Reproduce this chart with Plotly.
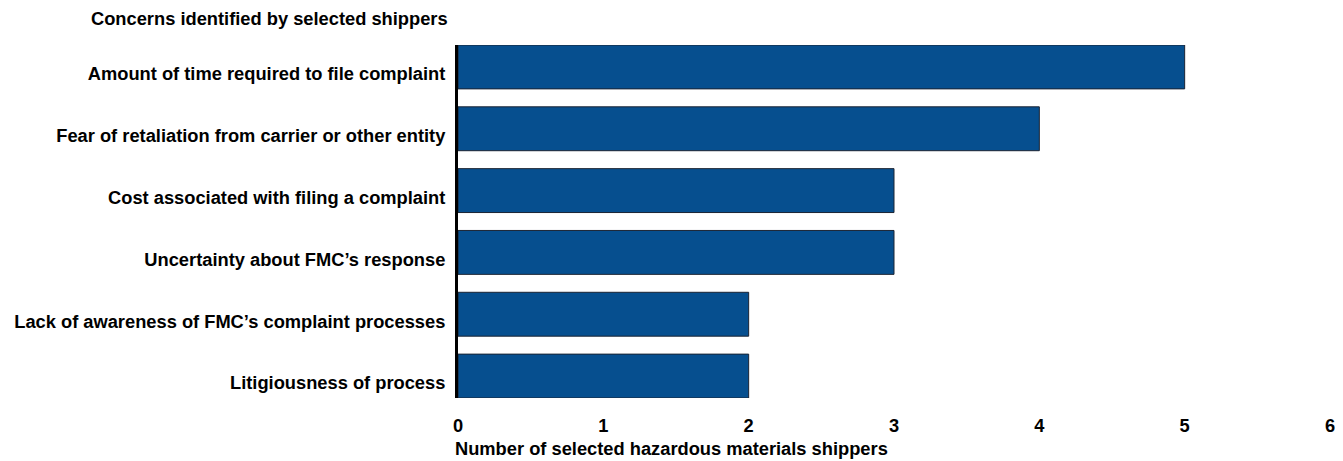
import plotly.graph_objects as go

categories = [
    "Amount of time required to file complaint",
    "Fear of retaliation from carrier or other entity",
    "Cost associated with filing a complaint",
    "Uncertainty about FMC\u2019s response",
    "Lack of awareness of FMC\u2019s complaint processes",
    "Litigiousness of process",
]
values = [5, 4, 3, 3, 2, 2]
x_ticks = [0, 1, 2, 3, 4, 5, 6]

# page body has an 8px margin, so the figure is sized/placed to compensate
off = 8
W, H = 1343 - off, 461 - off
ml, mr, mt, mb = 458 - off, 13, 45 - off, 63
gap = 0.29
fs = 18.3

fig = go.Figure(go.Bar(
    y=categories, x=values, orientation="h",
    marker=dict(color="#064f8f", line=dict(color="#1b2433", width=1)),
    hoverinfo="skip",
))

font = dict(family="Liberation Sans, Arial, sans-serif", size=fs, color="#000000")

fig.update_layout(
    width=W, height=H,
    margin=dict(l=ml, r=mr, t=mt, b=mb, autoexpand=False),
    paper_bgcolor="white", plot_bgcolor="white",
    bargap=gap, showlegend=False,
    font=font,
    xaxis=dict(
        range=[0, 6], tickvals=x_ticks,
        ticktext=[f"<b>{v}</b>" for v in x_ticks],
        showgrid=False, zeroline=False, showline=False, ticks="",
        tickfont=dict(size=fs), ticklabelstandoff=15, automargin=False,
    ),
    yaxis=dict(
        autorange=False,
        range=[len(categories) - 0.5 - gap / 2, -0.5 + gap / 2],
        categoryorder="array", categoryarray=categories,
        tickvals=categories,
        ticktext=[f"<b>{c}</b>" for c in categories],
        showgrid=False, zeroline=False,
        showline=True, linecolor="black", linewidth=3, ticks="",
        tickfont=dict(size=fs), ticklabelstandoff=6, ticklabelshift=-7,
        automargin=False,
    ),
    annotations=[
        dict(
            text="<b>Concerns identified by selected shippers</b>",
            xref="paper", yref="paper", x=0, y=1, xanchor="right", yanchor="middle",
            xshift=-8, yshift=27, showarrow=False, font=dict(size=fs),
        ),
        dict(
            text="<b>Number of selected hazardous materials shippers</b>",
            xref="paper", yref="paper", x=0, y=0, xanchor="left", yanchor="middle",
            xshift=-5, yshift=-50, showarrow=False, font=dict(size=fs),
        ),
    ],
)

fig.write_html("out.html")
